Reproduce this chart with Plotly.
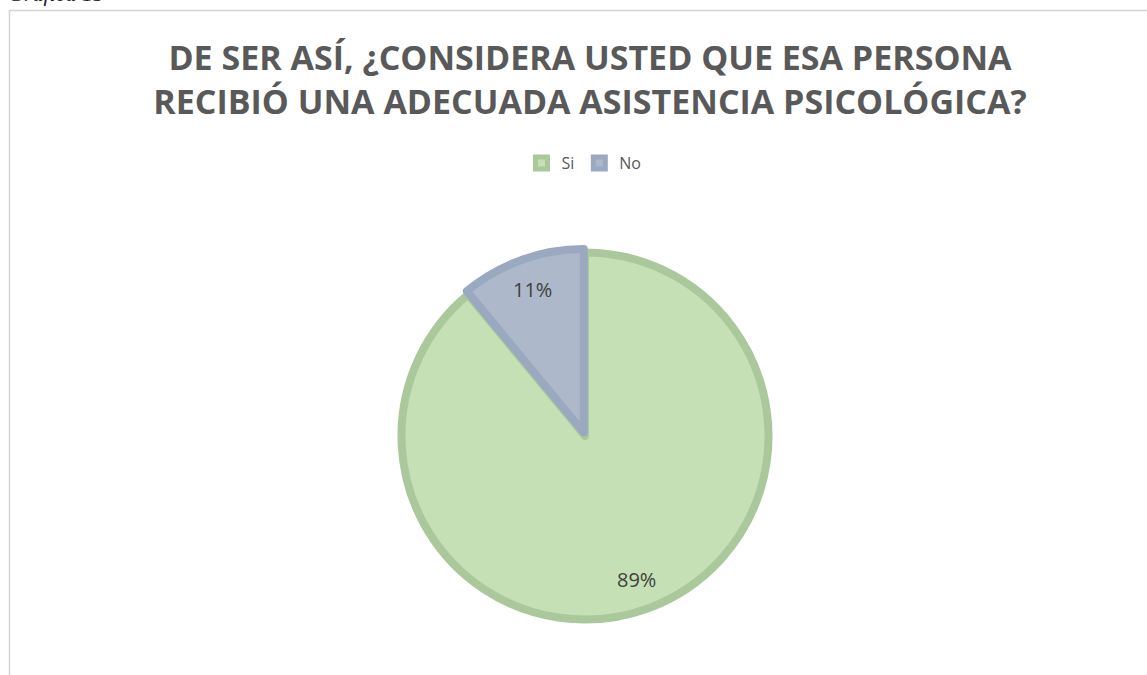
import math
import plotly.graph_objects as go

# ---- data ----
categories = ["Si", "No"]
values = [89, 11]
pulls = [0.0, 0.02]
fill_colors = ["#C5E0B4", "#ADB9CA"]
line_colors = ["#ABC89C", "#9AA8C0"]

title_text = "DE SER ASÍ, ¿CONSIDERA USTED QUE ESA PERSONA<br>RECIBIÓ UNA ADECUADA ASISTENCIA PSICOLÓGICA?"
caption_text = "Gráfica 15"

W, H = 1147, 675

# pie geometry (pixels)
cx, cy = 585.0, 436.0
r = 183.5
half = r * (1 + max(pulls))

def px_x(x):
    return x / W

def px_y(y):
    return 1 - y / H

fig = go.Figure()
fig.add_trace(go.Pie(
    labels=categories,
    values=values,
    sort=False,
    direction="clockwise",
    rotation=0,
    pull=pulls,
    marker=dict(colors=fill_colors, line=dict(color=line_colors, width=8)),
    textinfo="none",
    hoverinfo="label+percent",
    domain=dict(x=[px_x(cx - half), px_x(cx + half)],
                y=[px_y(cy + half), px_y(cy - half)]),
))

# percentage labels placed along each slice's mid-angle
total = sum(values)
cum = 0
annotations = []
for v, p in zip(values, pulls):
    mid = (cum + v / 2) / total * 2 * math.pi
    cum += v
    d = r * 0.83 + p * r
    lx = cx + d * math.sin(mid)
    ly = cy - d * math.cos(mid)
    annotations.append(dict(
        x=px_x(lx), y=px_y(ly), xref="paper", yref="paper",
        text=f"{round(v / total * 100)}%", showarrow=False,
        font=dict(family="Open Sans", size=20, color="#404040"),
        xanchor="center", yanchor="middle",
    ))

annotations.append(dict(
    x=px_x(6), y=px_y(8), xref="paper", yref="paper",
    text=f"<i>{caption_text}</i>", showarrow=False,
    font=dict(family="Liberation Serif", size=22, color="#222222"),
    xanchor="left", yanchor="bottom",
))

fig.update_layout(
    width=W, height=H,
    margin=dict(l=0, r=0, t=0, b=0),
    paper_bgcolor="white",
    plot_bgcolor="white",
    title=dict(
        text=f"<b>{title_text}</b>",
        x=px_x(590), xanchor="center",
        y=px_y(70), yanchor="top", yref="container",
        font=dict(family="Open Sans", size=34, color="#595959"),
    ),
    showlegend=True,
    legend=dict(
        orientation="h", x=px_x(584), xanchor="center",
        y=px_y(163), yanchor="middle",
        font=dict(family="Open Sans", size=16, color="#595959"),
        traceorder="normal",
    ),
    annotations=annotations,
    shapes=[dict(
        type="rect", xref="paper", yref="paper",
        x0=px_x(9.5), y0=px_y(10.5), x1=1.02, y1=-0.02,
        line=dict(color="#D4D4D4", width=1.5), fillcolor="rgba(0,0,0,0)",
        layer="below",
    )],
)

fig.write_html("out.html", config={"displayModeBar": False},
               post_script="document.body.style.margin='0';")
